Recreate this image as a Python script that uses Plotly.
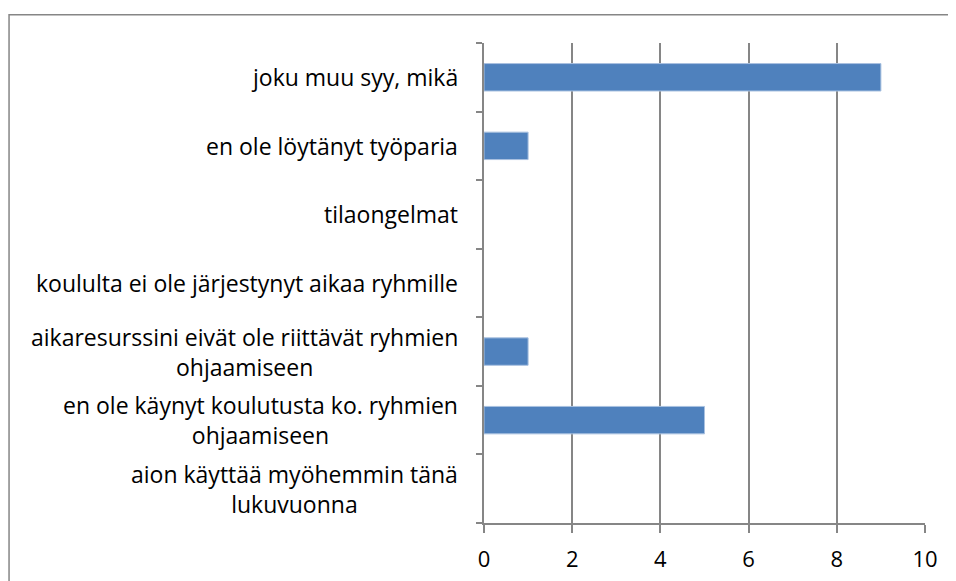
import plotly.graph_objects as go

# Categories listed bottom -> top (Plotly category order)
categories = [
    "aion käyttää myöhemmin tänä lukuvuonna",
    "en ole käynyt koulutusta ko. ryhmien ohjaamiseen",
    "aikaresurssini eivät ole riittävät ryhmien ohjaamiseen",
    "koululta ei ole järjestynyt aikaa ryhmille",
    "tilaongelmat",
    "en ole löytänyt työparia",
    "joku muu syy, mikä",
]
label_text = [
    "aion käyttää myöhemmin tänä<br>lukuvuonna",
    "en ole käynyt koulutusta ko. ryhmien<br>ohjaamiseen",
    "aikaresurssini eivät ole riittävät ryhmien<br>ohjaamiseen",
    "koululta ei ole järjestynyt aikaa ryhmille",
    "tilaongelmat",
    "en ole löytänyt työparia",
    "joku muu syy, mikä",
]
values = [0, 5, 1, 0, 0, 1, 9]
x_ticks = [0, 2, 4, 6, 8, 10]

FONT = "Open Sans, Noto Sans, sans-serif"
FS = 23
GRAY = "#868686"

fig = go.Figure()
fig.add_trace(go.Bar(
    y=categories, x=values, orientation="h",
    marker=dict(color="#4F81BD",
                line=dict(color="#A9C1E0", width=[1 if v > 0 else 0 for v in values])),
    hoverinfo="x+y",
))

for cat, txt in zip(categories, label_text):
    fig.add_annotation(
        x=0, y=cat, xref="x", yref="y", text=txt, showarrow=False,
        xanchor="right", yanchor="middle", align="center", xshift=-24,
        font=dict(family=FONT, size=FS, color="#000000"),
    )

# outer chart border (figure is offset by the page's 8px body margin)
fig.add_shape(type="rect", xref="paper", yref="paper",
              x0=-1.077, x1=1.075, y0=-0.15, y1=1.059,
              line=dict(color=GRAY, width=1.5), fillcolor="rgba(0,0,0,0)", layer="below")

fig.update_layout(
    width=948, height=573,
    margin=dict(l=476, r=31, t=35, b=58, autoexpand=False),
    paper_bgcolor="white", plot_bgcolor="white",
    bargap=0.6, showlegend=False,
    font=dict(family=FONT, size=FS, color="#000000"),
    xaxis=dict(
        range=[0, 10], tickvals=x_ticks, ticktext=[str(v) for v in x_ticks],
        showgrid=True, gridcolor=GRAY, gridwidth=1.5,
        showline=True, linecolor=GRAY, linewidth=1.5,
        ticks="outside", ticklen=8, tickcolor=GRAY, tickwidth=1.5,
        zeroline=False, ticklabelstandoff=8, automargin=False,
        tickfont=dict(family=FONT, size=FS - 1, color="#000000"),
        fixedrange=True,
    ),
    yaxis=dict(
        type="category", categoryorder="array", categoryarray=categories,
        showticklabels=False, showgrid=False,
        showline=True, linecolor=GRAY, linewidth=1.5,
        ticks="outside", ticklen=6, tickcolor=GRAY, tickwidth=1.5,
        tickson="boundaries", zeroline=False, fixedrange=True, automargin=False,
    ),
)

fig.write_html("out.html")
